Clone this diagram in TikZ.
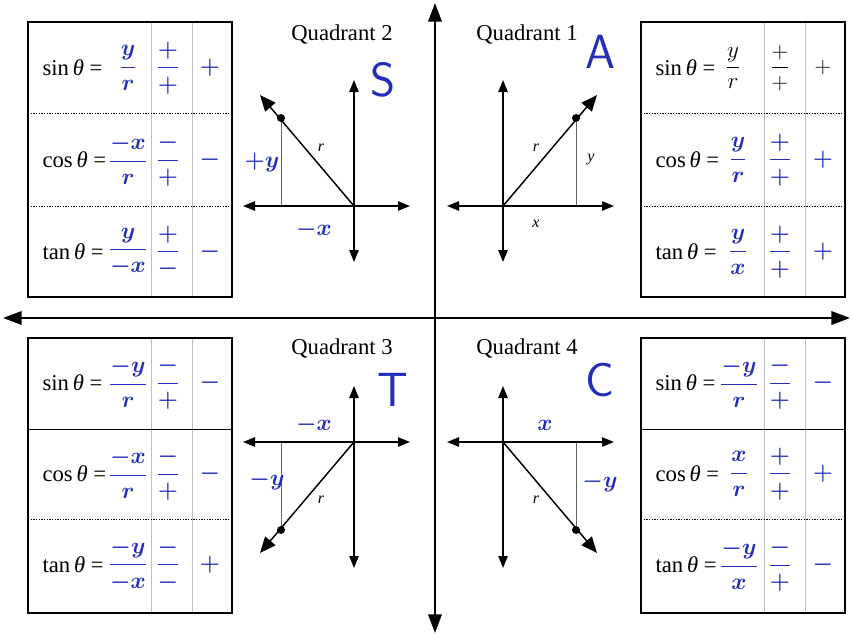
\documentclass[tikz,border=0pt]{standalone}
\usepackage{amsmath}
\usepackage{fontspec}
\setmainfont{Liberation Serif}
\usetikzlibrary{arrows.meta}
\definecolor{inkblue}{RGB}{35,45,185}

\begin{document}
\begin{tikzpicture}[x=0.75pt, y=-0.75pt, >={Triangle[length=9pt, width=7pt]},
  every node/.style={inner sep=1pt},
  quadlabel/.style={font=\fontsize{17}{20}\selectfont},
  fnlabel/.style={font=\fontsize{17}{20}\selectfont, anchor=west},
  printed/.style={font=\fontsize{16}{19}\selectfont},
  ink/.style={text=inkblue, font=\fontsize{19}{23}\selectfont\boldmath},
  bigink/.style={text=inkblue, font=\fontsize{36}{42}\selectfont\sffamily},
  small/.style={font=\fontsize{12}{14}\selectfont\itshape},
  frame/.style={line width=1pt},
  divider/.style={line width=0.6pt, dash pattern=on 1pt off 1pt},
  solidrule/.style={line width=0.7pt},
  column/.style={black!25, line width=0.5pt},
  axis/.style={line width=1.1pt, <->},
  ray/.style={line width=1.1pt, ->, >={Triangle[length=12pt, width=10pt]}},
  helper/.style={black!60, line width=0.5pt},
  dot/.style={circle, fill=black, inner sep=0pt, minimum size=6pt}]
\useasboundingbox (0,0) rectangle (852,635);

% main axes
\coordinate (ytop) at (435,3);
\coordinate (ybot) at (435,633);
\coordinate (xleft) at (3,318);
\coordinate (xright) at (850,318);
\draw[line width=1.9pt, <->, >={Triangle[length=14pt, width=10pt]}] (ytop) -- (ybot);
\draw[line width=1.9pt, <->, >={Triangle[length=14pt, width=10pt]}] (xleft) -- (xright);

% table frames
\foreach \l/\t/\fst/\snd in {28/22/divider/184, 641/22/divider/184, 28/338/solidrule/181, 641/338/solidrule/181}
{
  \draw[column] (\l+123,\t) -- (\l+123,\t+275);
  \draw[column] (\l+164,\t) -- (\l+164,\t+275);
  \draw[\fst] (\l,\t+91) -- (\l+204,\t+91);
  \draw[divider] (\l,\t+\snd) -- (\l+204,\t+\snd);
  \draw[frame] (\l,\t) rectangle (\l+204,\t+275);
}

% quadrant 2 table
\foreach \fn/\val/\sgn/\res [count=\i from 0] in {sin/{\dfrac{y}{r}}/{\dfrac{+}{+}}/+, cos/{\dfrac{-x}{r}}/{\dfrac{-}{+}}/-, tan/{\dfrac{y}{-x}}/{\dfrac{+}{-}}/-}
{
  \node[fnlabel] (q2fn\i) at (41,68+92*\i) {\fn\,\textit{θ} =};
  \node[ink] (q2val\i) at (128,68+92*\i) {$\val$};
  \node[ink] (q2sgn\i) at (168,68+92*\i) {$\sgn$};
  \node[ink] (q2res\i) at (210,68+92*\i) {$\res$};
}

% quadrant 1 table
\node[fnlabel] (q1fn0) at (654,68) {sin\,\textit{θ} =};
\node[printed] (q1val0) at (733,68) {$\dfrac{y}{r}$};
\node[printed] (q1sgn0) at (780,68) {$\dfrac{+}{+}$};
\node[printed] (q1res0) at (823,68) {$+$};
\foreach \fn/\val/\sgn/\res [count=\i] in {cos/{\dfrac{y}{r}}/{\dfrac{+}{+}}/+, tan/{\dfrac{y}{x}}/{\dfrac{+}{+}}/+}
{
  \node[fnlabel] (q1fn\i) at (654,68+92*\i) {\fn\,\textit{θ} =};
  \node[ink] (q1val\i) at (738,68+92*\i) {$\val$};
  \node[ink] (q1sgn\i) at (780,68+92*\i) {$\sgn$};
  \node[ink] (q1res\i) at (823,68+92*\i) {$\res$};
}

% quadrant 3 table
\foreach \fn/\val/\sgn/\res [count=\i from 0] in {sin/{\dfrac{-y}{r}}/{\dfrac{-}{+}}/-, cos/{\dfrac{-x}{r}}/{\dfrac{-}{+}}/-, tan/{\dfrac{-y}{-x}}/{\dfrac{-}{-}}/+}
{
  \node[fnlabel] (q3fn\i) at (41,383+91*\i) {\fn\,\textit{θ} =};
  \node[ink] (q3val\i) at (128,383+91*\i) {$\val$};
  \node[ink] (q3sgn\i) at (168,383+91*\i) {$\sgn$};
  \node[ink] (q3res\i) at (210,383+91*\i) {$\res$};
}

% quadrant 4 table
\foreach \fn/\val/\sgn/\res [count=\i from 0] in {sin/{\dfrac{-y}{r}}/{\dfrac{-}{+}}/-, cos/{\dfrac{x}{r}}/{\dfrac{+}{+}}/+, tan/{\dfrac{-y}{x}}/{\dfrac{-}{+}}/-}
{
  \node[fnlabel] (q4fn\i) at (654,383+91*\i) {\fn\,\textit{θ} =};
  \node[ink] (q4val\i) at (739,383+91*\i) {$\val$};
  \node[ink] (q4sgn\i) at (780,383+91*\i) {$\sgn$};
  \node[ink] (q4res\i) at (823,383+91*\i) {$\res$};
}

% small axes with the angle ray
\foreach \ox/\oy/\sx/\sy [count=\k] in {503/206/1/-1, 354/206/-1/-1, 354/442/-1/1, 503/442/1/1}
{
  \coordinate (o\k) at (\ox,\oy);
  \coordinate (hA\k) at (\ox-56*\sx,\oy);
  \coordinate (hB\k) at (\ox+111*\sx,\oy);
  \coordinate (vA\k) at (\ox,\oy-56*\sy);
  \coordinate (vB\k) at (\ox,\oy+126*\sy);
  \coordinate (tip\k) at (\ox+94*\sx,\oy+111*\sy);
  \coordinate (foot\k) at (\ox+73*\sx,\oy);
  \node[dot] (p\k) at (\ox+73*\sx,\oy+88*\sy) {};
  \draw[helper] (p\k) -- (foot\k);
  \draw[axis] (hA\k) -- (hB\k);
  \draw[axis] (vA\k) -- (vB\k);
  \draw[ray] (o\k) -- (tip\k);
  \node[small] (r\k) at (\ox+33*\sx,\oy+58*\sy) {r};
}

% titles and labels
\node[quadlabel] (title1) at (527,34) {Quadrant 1};
\node[quadlabel] (title2) at (342,34) {Quadrant 2};
\node[quadlabel] (title3) at (342,348) {Quadrant 3};
\node[quadlabel] (title4) at (527,348) {Quadrant 4};
\node[small] (q1y) at (591,160) {y};
\node[small] (q1x) at (536,224) {x};
\node[ink] (q2y) at (262,163) {$+y$};
\node[ink] (q2x) at (314,230) {$-x$};
\node[ink] (q3x) at (314,425) {$-x$};
\node[ink] (q3y) at (267,480) {$-y$};
\node[ink] (q4x) at (545,425) {$x$};
\node[ink] (q4y) at (600,482) {$-y$};
\node[bigink] (letA) at (600,52) {A};
\node[bigink] (letS) at (383,80) {S};
\node[bigink] (letT) at (393,390) {T};
\node[bigink] (letC) at (600,380) {C};
\end{tikzpicture}
\end{document}
